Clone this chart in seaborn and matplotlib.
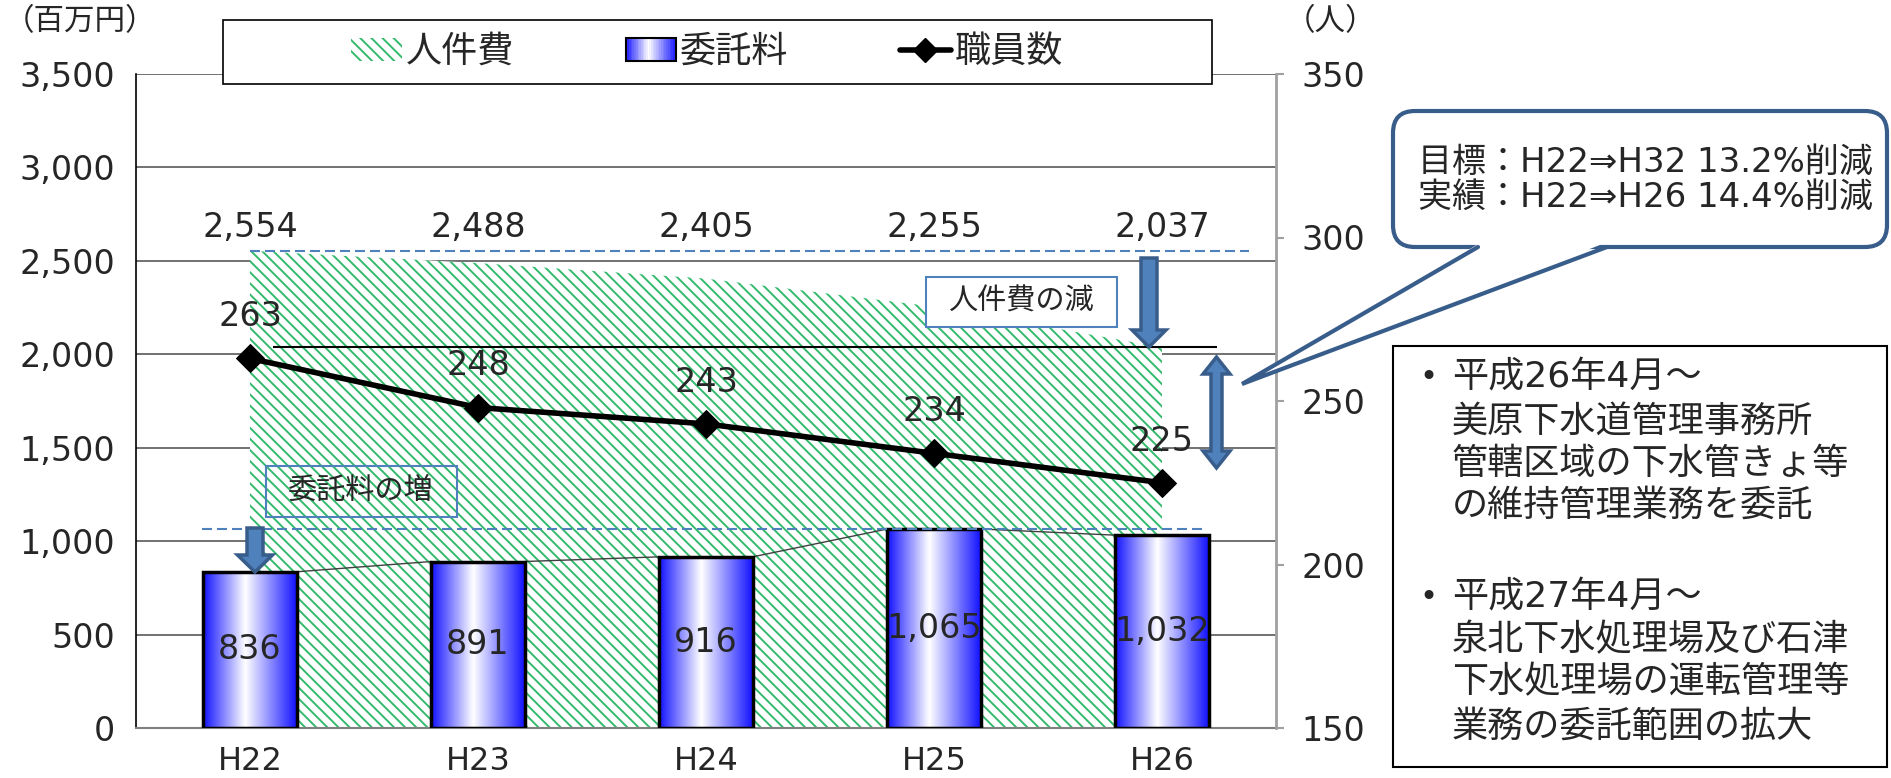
import numpy as np
import pandas as pd
import matplotlib
matplotlib.use('Agg')
import matplotlib.pyplot as plt
import seaborn as sns
from matplotlib.patches import Patch, Rectangle, Polygon, FancyBboxPatch
from matplotlib.lines import Line2D
from matplotlib.legend_handler import HandlerBase
from matplotlib.colors import LinearSegmentedColormap
from matplotlib.transforms import Affine2D

# data
years = ['H22', 'H23', 'H24', 'H25', 'H26']
jinkenhi = [2554, 2488, 2405, 2255, 2037]      # 人件費 (百万円)
itakuryo = [836, 891, 916, 1065, 1032]         # 委託料 (百万円)
shokuin = [263, 248, 243, 234, 225]            # 職員数 (人)
left_ticks = [0, 500, 1000, 1500, 2000, 2500, 3000, 3500]
right_ticks = [150, 200, 250, 300, 350]

callout_lines = ['目標：H22⇒H32 13.2%削減', '実績：H22⇒H26 14.4%削減']
note_lines = ['平成26年4月～', '美原下水道管理事務所', '管轄区域の下水管きょ等', 'の維持管理業務を委託',
              '平成27年4月～', '泉北下水処理場及び石津', '下水処理場の運転管理等', '業務の委託範囲の拡大']

GREEN = '#34ba6c'
ARROW_FACE = '#4f81bd'
ARROW_EDGE = '#385d8a'

sns.set_style('white')
plt.rcParams['font.family'] = ['DejaVu Sans', 'Noto Sans CJK JP']
plt.rcParams['hatch.linewidth'] = 1.4

W, H = 1891, 778
fig = plt.figure(figsize=(W / 100, H / 100), dpi=100)
# pixel coords, y measured from the top
pxt = Affine2D().scale(1 / W, -1 / H).translate(0, 1) + fig.transFigure

ax = fig.add_axes([136 / W, 1 - 728 / H, (1276 - 136) / W, (728 - 74) / H])
pos = np.arange(len(years))

# bars
df = pd.DataFrame({'year': years, 'itaku': itakuryo})
sns.barplot(data=df, x='year', y='itaku', ax=ax, width=0.41, color='white',
            edgecolor='black', linewidth=2.5, zorder=2)

# hatched area for 人件費
ax.fill_between(pos, jinkenhi, 0, facecolor='white', edgecolor=GREEN,
                hatch='\\\\\\', linewidth=0, zorder=1)

# gradient fill in the bars
bar_cmap = LinearSegmentedColormap.from_list(
    'bar', [(0, '#1414ff'), (0.45, '#ffffff'), (1, '#1414ff')])
grad = np.linspace(0, 1, 100).reshape(1, -1)
for p in list(ax.patches):
    x0, w, h = p.get_x(), p.get_width(), p.get_height()
    im = ax.imshow(grad, cmap=bar_cmap, extent=(x0, x0 + w, 0, h), aspect='auto',
                   interpolation='bilinear', origin='lower', zorder=2.2)
    im.set_clip_path(p)
    p.set_facecolor('none')
    p.set_zorder(3)

# series lines between bar tops
bw = 0.41
for i in range(len(years) - 1):
    ax.plot([i + bw / 2, i + 1 - bw / 2], [itakuryo[i], itakuryo[i + 1]],
            color='#404040', lw=1, zorder=2.5)

ax.set_xlim(-0.5, len(years) - 0.5)
ax.set_ylim(0, 3500)
ax.set_yticks(left_ticks)
ax.set_yticklabels([f'{v:,}' for v in left_ticks])
ax.set_xlabel('')
ax.set_ylabel('')
ax.yaxis.grid(True, color='#595959', linewidth=1.2)
ax.set_axisbelow(True)
ax.set_xticks(np.arange(len(years) + 1) - 0.5, minor=True)
ax.tick_params(axis='x', which='major', length=0, labelsize=23, pad=13)
ax.tick_params(axis='x', which='minor', direction='in', length=6, color='#808080', width=1.2)
ax.tick_params(axis='y', length=0, labelsize=24, pad=15)
for s in ['top', 'right']:
    ax.spines[s].set_visible(False)
ax.spines['left'].set_color('black')
ax.spines['left'].set_linewidth(1.2)
ax.spines['bottom'].set_color('#808080')
ax.spines['bottom'].set_linewidth(1.5)

# reference lines
ax.hlines(jinkenhi[0], 0, 4.38, colors=ARROW_FACE, linestyles=(0, (4.8, 2.4)), lw=1.5, zorder=4)
ax.hlines(max(itakuryo), -0.21, 4.19, colors=ARROW_FACE, linestyles=(0, (4.8, 2.4)), lw=1.5, zorder=4)
ax.hlines(jinkenhi[-1], 0.1, 4.24, colors='black', lw=1.5, zorder=4)

# labels
for i, v in enumerate(jinkenhi):
    ax.text(i, 2680, f'{v:,}', ha='center', va='center', fontsize=24, zorder=6)
for i, v in enumerate(itakuryo):
    ax.text(i, v / 2, f'{v:,}', ha='center', va='center', fontsize=24, zorder=6)

# staff line on right axis
ax2 = ax.twinx()
sns.lineplot(x=pos, y=shokuin, ax=ax2, color='black', linewidth=4, marker='D',
             markersize=14, markeredgecolor='black', zorder=5)
ax2.set_ylim(150, 350)
ax2.set_yticks(right_ticks)
ax2.set_ylabel('')
ax2.grid(False)
for s in ['top', 'left', 'bottom']:
    ax2.spines[s].set_visible(False)
ax2.spines['right'].set_color('#a0a0a0')
ax2.spines['right'].set_linewidth(2)
ax2.tick_params(axis='y', direction='out', length=6, width=1.5, color='#a0a0a0',
                labelsize=24, pad=12)
for i, v in enumerate(shokuin):
    ax2.annotate(str(v), (i, v), xytext=(0, 30), textcoords='offset points',
                 ha='center', va='center', fontsize=24, zorder=6)

# unit labels
fig.text(80, 22, '（百万円）', transform=pxt, ha='center', va='center', fontsize=22)
fig.text(1330, 22, '（人）', transform=pxt, ha='center', va='center', fontsize=22)


# legend
class GradientHandler(HandlerBase):
    def create_artists(self, legend, orig_handle, xdescent, ydescent, width, height, fontsize, trans):
        n = 30
        arts = []
        for k in range(n):
            c = bar_cmap((k + 0.5) / n)
            arts.append(Rectangle((-xdescent + k * width / n, -ydescent), width / n * 1.05, height,
                                  facecolor=c, edgecolor='none', transform=trans))
        arts.append(Rectangle((-xdescent, -ydescent), width, height, facecolor='none',
                              edgecolor='black', lw=1.5, transform=trans))
        return arts


hatch_h = Patch(facecolor='white', edgecolor=GREEN, hatch='\\\\\\', linewidth=0)
bar_h = Patch()
line_h = Line2D([], [], color='black', lw=4, marker='D', markersize=12)
fig.add_artist(Rectangle((223, 20), 1212 - 223, 64, transform=pxt, facecolor='white',
                         edgecolor='black', lw=1.2, zorder=6))
leg = fig.legend([hatch_h, bar_h, line_h], ['人件費', '委託料', '職員数'],
                 handler_map={bar_h: GradientHandler()}, loc='center',
                 bbox_to_anchor=(707, 52), bbox_transform=pxt, ncol=3, frameon=False,
                 fontsize=26, handlelength=1.4, handleheight=0.6, handletextpad=0.1,
                 columnspacing=3.1)
leg.set_zorder(7)


# arrows
def v_arrow(xc, top, tip, shaft_w, head_w, head_len, double=False):
    if double:
        pts = [(xc, top), (xc + head_w / 2, top + head_len), (xc + shaft_w / 2, top + head_len),
               (xc + shaft_w / 2, tip - head_len), (xc + head_w / 2, tip - head_len), (xc, tip),
               (xc - head_w / 2, tip - head_len), (xc - shaft_w / 2, tip - head_len),
               (xc - shaft_w / 2, top + head_len), (xc - head_w / 2, top + head_len)]
    else:
        pts = [(xc - shaft_w / 2, top), (xc + shaft_w / 2, top), (xc + shaft_w / 2, tip - head_len),
               (xc + head_w / 2, tip - head_len), (xc, tip), (xc - head_w / 2, tip - head_len),
               (xc - shaft_w / 2, tip - head_len)]
    fig.add_artist(Polygon(pts, closed=True, transform=pxt, facecolor=ARROW_FACE,
                           edgecolor=ARROW_EDGE, lw=2.5, zorder=8))


v_arrow(1149, 258, 347, 16, 34, 17)
v_arrow(255, 528, 572, 16, 35, 17)
v_arrow(1216.5, 357, 468, 11, 27, 17, double=True)

# small boxes
fig.add_artist(Rectangle((926, 277), 191, 50, transform=pxt, facecolor='white',
                         edgecolor=ARROW_FACE, lw=1.5, zorder=8))
fig.text(1021, 302, '人件費の減', transform=pxt, ha='center', va='center', fontsize=21, zorder=9)
fig.add_artist(Rectangle((266, 466), 191, 51, transform=pxt, facecolor='none',
                         edgecolor=ARROW_FACE, lw=1.5, zorder=8))
fig.text(361, 491, '委託料の増', transform=pxt, ha='center', va='center', fontsize=21, zorder=9)

# callout bubble
fig.add_artist(FancyBboxPatch((1393, 111), 494, 136, boxstyle='round,pad=0,rounding_size=22',
                              transform=pxt, facecolor='white', edgecolor=ARROW_EDGE, lw=3, zorder=8))
fig.add_artist(Polygon([(1480, 243), (1605, 243), (1242, 384)], closed=True, transform=pxt,
                       facecolor='white', edgecolor='none', zorder=9))
fig.add_artist(Line2D([1478, 1242, 1607], [247, 384, 247], transform=pxt, color=ARROW_EDGE,
                      lw=3, zorder=10, solid_joinstyle='miter'))
for k, t in enumerate(callout_lines):
    fig.text(1418, 162 + 35 * k, t, transform=pxt, ha='left', va='center', fontsize=24.5, zorder=11)

# note box
fig.add_artist(Rectangle((1393, 346), 494, 421, transform=pxt, facecolor='white',
                         edgecolor='black', lw=1.5, zorder=8))
note_y = [378, 422, 464, 506, 598, 640, 682, 727]
for k, t in enumerate(note_lines):
    if k in (0, 4):
        fig.text(1428, note_y[k], '•', transform=pxt, ha='center', va='center', fontsize=22, zorder=9)
    fig.text(1452, note_y[k], t, transform=pxt, ha='left', va='center', fontsize=26, zorder=9)

fig.savefig('out.png', dpi=100)
